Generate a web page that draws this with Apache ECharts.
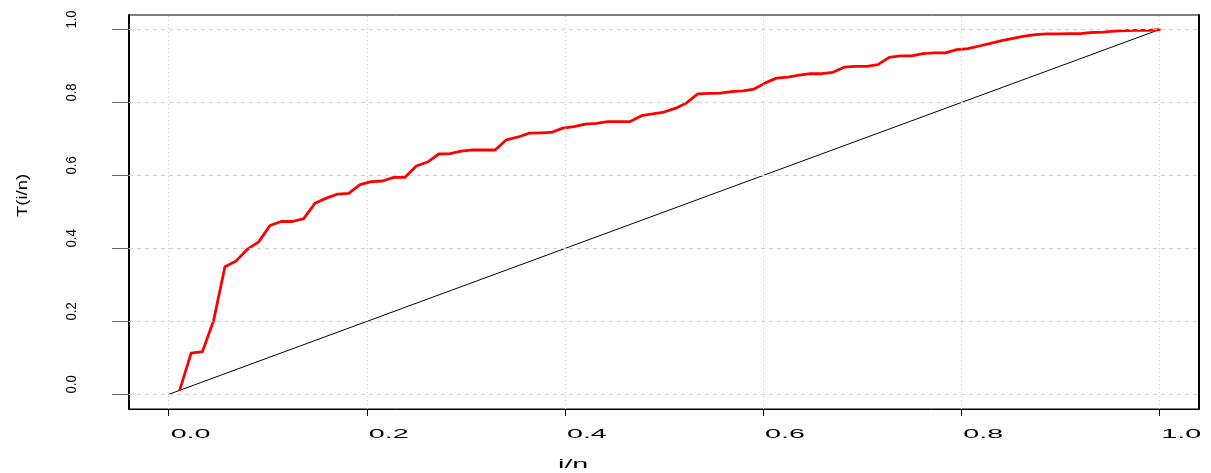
<!DOCTYPE html>
<html>
<head>
<meta charset="utf-8">
<script src="https://cdn.jsdelivr.net/npm/echarts@6/dist/echarts.min.js"></script>
<style>
html,body{margin:0;padding:0;background:#fff;}
#chart{width:1211px;height:473px;}
</style>
</head>
<body>
<div id="chart"></div>
<script>
// ---- data ----
const n = 88; // number of points, abscissa is i/n
const tValues = [
  0.013,0.113,0.117,0.203,0.350,0.366,0.398,0.418,0.463,0.474,
  0.474,0.482,0.524,0.538,0.549,0.551,0.575,0.583,0.585,0.595,
  0.595,0.626,0.637,0.659,0.660,0.667,0.670,0.670,0.670,0.698,
  0.705,0.716,0.717,0.718,0.730,0.734,0.741,0.743,0.748,0.748,
  0.748,0.764,0.769,0.774,0.784,0.799,0.824,0.825,0.826,0.830,
  0.832,0.837,0.854,0.867,0.870,0.875,0.879,0.879,0.883,0.897,
  0.899,0.899,0.904,0.924,0.928,0.928,0.934,0.936,0.936,0.945,
  0.948,0.955,0.962,0.970,0.976,0.982,0.986,0.988,0.988,0.989,
  0.989,0.992,0.993,0.996,0.997,0.998,0.998,1.000
];
const diagX = [0, 1];
const diagY = [0, 1];
const xTicks = [0, 0.2, 0.4, 0.6, 0.8, 1.0];
const yTicks = [0, 0.2, 0.4, 0.6, 0.8, 1.0];
const xTickLabels = ['0.0','0.2','0.4','0.6','0.8','1.0'];
const yTickLabels = ['0.0','0.2','0.4','0.6','0.8','1.0'];
const xTitle = 'i/n';
const yTitle = 'T(i/n)';

const curveData = tValues.map((t, i) => [(i + 1) / n, t]);
const diagData = diagX.map((x, i) => [x, diagY[i]]);

const chart = echarts.init(document.getElementById('chart'), null, {renderer: 'canvas'});

const gridMarks = [];
xTicks.forEach(v => gridMarks.push({xAxis: v, lineStyle: {type: [1, 3], color: '#c8c8c8', width: 1}}));
yTicks.forEach(v => gridMarks.push({yAxis: v, lineStyle: {type: [4, 4], color: '#d0d0d0', width: 1}}));

const option = {
  animation: false,
  backgroundColor: '#fff',
  grid: {left: 129, right: 12, top: 15, bottom: 64, show: true, borderColor: '#000', borderWidth: 1, backgroundColor: 'transparent'},
  xAxis: {
    type: 'value', min: -0.04, max: 1.04,
    axisLine: {show: true, onZero: false, lineStyle: {color: '#000', width: 1}},
    axisTick: {show: true, customValues: xTicks, length: 7, lineStyle: {color: '#000', width: 1}},
    axisLabel: {show: false},
    splitLine: {show: false}
  },
  yAxis: [{
    type: 'value', min: -0.04, max: 1.04, position: 'left',
    axisLine: {show: true, onZero: false, lineStyle: {color: '#000', width: 2}},
    axisTick: {show: true, customValues: yTicks, length: 17, lineStyle: {color: '#666', width: 1}},
    axisLabel: {show: false},
    splitLine: {show: false}
  }, {
    type: 'value', min: -0.04, max: 1.04, position: 'right',
    axisLine: {show: true, onZero: false, lineStyle: {color: '#000', width: 2}},
    axisTick: {show: false}, axisLabel: {show: false}, splitLine: {show: false}
  }],
  series: [
    {
      name: 'grid', type: 'line', data: [], z: 1, silent: true,
      markLine: {silent: true, symbol: 'none', label: {show: false}, animation: false, data: gridMarks}
    },
    {
      name: 'diag', type: 'line', data: diagData, z: 2, symbol: 'none', silent: true,
      lineStyle: {color: '#000', width: 1}
    },
    {
      name: 'T', type: 'line', data: curveData, z: 3, symbol: 'none', silent: true,
      lineStyle: {color: '#ff0000', width: 2.8, join: 'round', cap: 'round'}
    }
  ]
};
chart.setOption(option);

// tick labels and titles as text, placed through the axis scales
const graphics = [];
const font = 'Liberation Sans, Arial, sans-serif';
xTicks.forEach((v, i) => {
  const p = chart.convertToPixel({gridIndex: 0}, [v, 0]);
  graphics.push({
    type: 'text', x: p[0] + 2, y: 434.5, scaleX: 2.28, silent: true,
    style: {text: xTickLabels[i], x: 0, y: 0, fill: '#000', fontSize: 12.6, fontFamily: font, align: 'left', verticalAlign: 'middle'}
  });
});
yTicks.forEach((v, i) => {
  const p = chart.convertToPixel({gridIndex: 0}, [0, v]);
  graphics.push({
    type: 'text', x: 71.5, y: p[1] - 1, rotation: Math.PI / 2, scaleX: 0.85, silent: true,
    style: {text: yTickLabels[i], x: 0, y: 0, fill: '#000', fontSize: 15.4, fontFamily: font, align: 'left', verticalAlign: 'middle'}
  });
});
graphics.push({
  type: 'text', x: 558, y: 458, scaleX: 2.28, silent: true,
  style: {text: xTitle, x: 0, y: 0, fill: '#000', fontSize: 12.6, fontFamily: font, align: 'left', verticalAlign: 'top'}
});
graphics.push({
  type: 'text', x: 22.5, y: 217, rotation: Math.PI / 2, scaleX: 1.2, silent: true,
  style: {text: yTitle, x: 0, y: 0, fill: '#000', fontSize: 15.4, fontFamily: font, align: 'left', verticalAlign: 'middle'}
});
chart.setOption({graphic: graphics});
</script>
</body>
</html>
